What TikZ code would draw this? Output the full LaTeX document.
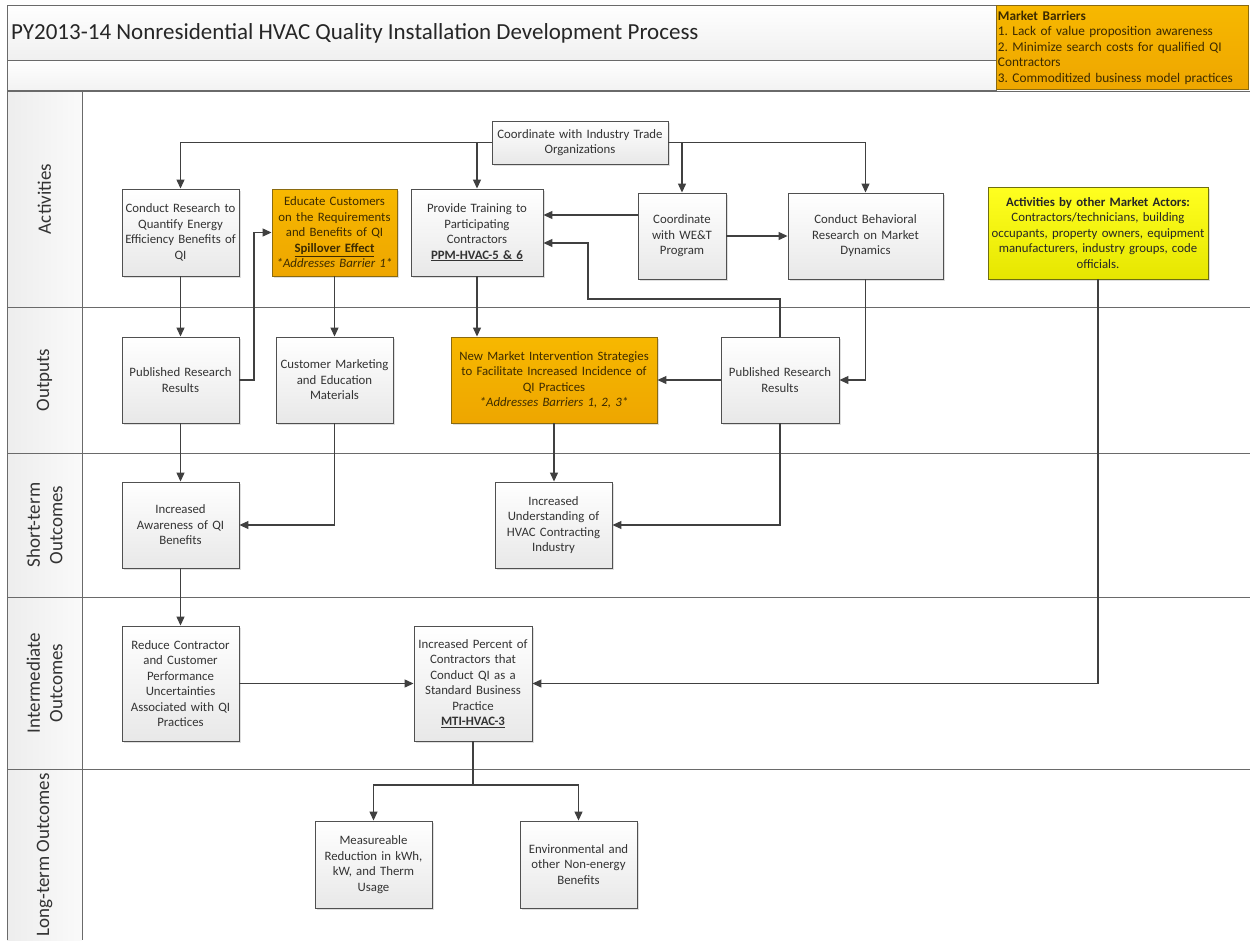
\documentclass[tikz,border=0pt]{standalone}
\usepackage{fontspec}
\setmainfont{Carlito}
\frenchspacing
\usetikzlibrary{arrows.meta,shadows,calc}
\definecolor{ln}{HTML}{404040}
\definecolor{bd}{HTML}{505050}
\definecolor{lanec}{HTML}{6A6A6A}
\definecolor{org}{HTML}{F7B800}
\definecolor{orgd}{HTML}{EEA600}
\definecolor{orgb}{HTML}{8A6A10}
\definecolor{yel}{HTML}{FFFF20}
\definecolor{yeld}{HTML}{E6E600}
\definecolor{yelb}{HTML}{6E6E10}
\definecolor{txt}{HTML}{333333}
\definecolor{otxt}{HTML}{3D2B00}
\tikzset{
  box/.style={draw=bd, line width=0.9pt, top color=white, bottom color=gray!18,
    drop shadow={shadow xshift=1.5pt, shadow yshift=-1.5pt, opacity=0.25},
    align=center, inner sep=2pt, font=\fontsize{12.8}{15.5}\selectfont, text=txt},
  obox/.style={box, top color=org, bottom color=orgd, draw=orgb, text=otxt},
  ybox/.style={box, top color=yel, bottom color=yeld, draw=yelb, text=black!85},
  arr/.style={draw=ln, line width=1.2pt, -{Triangle[width=8pt,length=9pt]}},
  conn/.style={draw=ln, line width=1.2pt},
  laneline/.style={draw=lanec, line width=1pt},
  lanelabel/.style={rotate=90, align=center, text=txt, font=\fontsize{19}{22.5}\selectfont},
}
\begin{document}
\begin{tikzpicture}[x=1pt, y=-1pt]
\useasboundingbox (0,0) rectangle (1250,940);
\fill[white] (0,0) rectangle (1250,940);

% header bands
\draw[laneline, top color=white, bottom color=gray!12] (7,5) rectangle (996,60);
\draw[laneline, top color=white, bottom color=gray!10] (7,60) rectangle (996,90);
\node[anchor=west, inner sep=0pt, text=black!85, font=\fontsize{23}{27}\selectfont] (title) at (11,33)
  {PY2013-14 Nonresidential HVAC Quality Installation Development Process};
\node[anchor=north west, draw=orgb, line width=0.9pt, top color=org, bottom color=orgd,
  minimum width=252pt, minimum height=84pt, text width=249pt, inner sep=1.5pt, align=left,
  text=otxt, font=\fontsize{13.3}{15.5}\selectfont] (barriers) at (996,5)
  {\textbf{Market Barriers}\\
   1. Lack of value proposition awareness\\
   2. Minimize search costs for qualified QI\\
   Contractors\\
   3. Commoditized business model practices};

% swimlanes
\fill[left color=gray!14, right color=gray!4] (7,91) rectangle (82,940);
\draw[laneline] (7,91) -- (1250,91);
\draw[laneline] (7,307.5) -- (1250,307.5);
\draw[laneline] (7,453) -- (1250,453);
\draw[laneline] (7,597) -- (1250,597);
\draw[laneline] (7,769) -- (1250,769);
\draw[laneline] (7,91) -- (7,940);
\draw[laneline] (82,91) -- (82,940);
\node[lanelabel] (l1) at (44.5,199) {Activities};
\node[lanelabel] (l2) at (44.5,380) {Outputs};
\node[lanelabel] (l3) at (44.5,525) {Short-term\\Outcomes};
\node[lanelabel] (l4) at (44.5,683) {Intermediate\\Outcomes};
\node[lanelabel] (l5) at (44.5,855) {Long-term Outcomes};

% Activities
\node[box, minimum width=176pt, minimum height=43pt, text width=172pt] (trade) at (580,142.5)
  {Coordinate with Industry Trade\\Organizations};
\node[box, minimum width=117pt, minimum height=87pt, text width=113pt] (research) at (180.5,232.5)
  {Conduct Research to\\Quantify Energy\\Efficiency Benefits of\\QI};
\node[obox, minimum width=125pt, minimum height=87pt, text width=121pt] (educate) at (334.5,232.5)
  {Educate Customers\\on the Requirements\\and Benefits of QI\\\textbf{\underline{Spillover Effect}}\\\textit{*Addresses Barrier 1*}};
\node[box, minimum width=132pt, minimum height=87pt, text width=128pt] (training) at (477,232.5)
  {Provide Training to\\Participating\\Contractors\\\textbf{\underline{PPM-HVAC-5 \& 6}}};
\node[box, minimum width=88pt, minimum height=86pt, text width=84pt] (wet) at (682,236)
  {Coordinate\\with WE\&T\\Program};
\node[box, minimum width=155pt, minimum height=86pt, text width=151pt] (behav) at (865.5,236)
  {Conduct Behavioral\\Research on Market\\Dynamics};
\node[ybox, minimum width=220pt, minimum height=92pt, text width=216pt] (actors) at (1098,233)
  {\textbf{Activities by other Market Actors:}\\Contractors/technicians, building\\occupants, property owners, equipment\\manufacturers, industry groups, code\\officials.};

% Outputs
\node[box, minimum width=117pt, minimum height=86pt, text width=113pt] (prr1) at (180.5,380)
  {Published Research\\Results};
\node[box, minimum width=117pt, minimum height=86pt, text width=113pt] (cmkt) at (334.5,380)
  {Customer Marketing\\and Education\\Materials};
\node[obox, minimum width=206pt, minimum height=86pt, text width=202pt] (nmis) at (554,380)
  {New Market Intervention Strategies\\to Facilitate Increased Incidence of\\QI Practices\\\textit{*Addresses Barriers 1, 2, 3*}};
\node[box, minimum width=118pt, minimum height=86pt, text width=114pt] (prr2) at (780,380)
  {Published Research\\Results};

% Short-term
\node[box, minimum width=117pt, minimum height=86pt, text width=113pt] (aware) at (180.5,525)
  {Increased\\Awareness of QI\\Benefits};
\node[box, minimum width=117pt, minimum height=86pt, text width=113pt] (under) at (553.5,525)
  {Increased\\Understanding of\\HVAC Contracting\\Industry};

% Intermediate
\node[box, minimum width=117pt, minimum height=115pt, text width=113pt] (reduce) at (180.5,683.5)
  {Reduce Contractor\\and Customer\\Performance\\Uncertainties\\Associated with QI\\Practices};
\node[box, minimum width=118pt, minimum height=115pt, text width=114pt] (pct) at (473,683.5)
  {Increased Percent of\\Contractors that\\Conduct QI as a\\Standard Business\\Practice\\\textbf{\underline{MTI-HVAC-3}}};

% Long-term
\node[box, minimum width=117pt, minimum height=87pt, text width=113pt] (meas) at (373.5,864.5)
  {Measureable\\Reduction in kWh,\\kW, and Therm\\Usage};
\node[box, minimum width=117pt, minimum height=87pt, text width=113pt] (env) at (578.5,864.5)
  {Environmental and\\other Non-energy\\Benefits};

% helper coordinates
\coordinate (w1) at ([yshift=21pt]wet.west);
\coordinate (t1) at ([yshift=-10.5pt]training.east);
\coordinate (b1) at (588,299);
\coordinate (b2) at (254,380);
\coordinate (fork) at (473,785);

% connectors
\draw[arr] (trade.west) -| (research.north);
\draw[arr] (trade.east) -| (behav.north);
\draw[arr] (trade.west -| training.north) -- (training.north);
\draw[arr] (trade.east -| wet.north) -- (wet.north);
\draw[arr] (w1) -- (w1 -| training.east);
\draw[arr] (wet.east) -- (behav.west);
\draw[arr] (prr2.north) |- (b1) |- (t1);
\draw[arr] (research.south) -- (prr1.north);
\draw[arr] (prr1.east) -- (b2) |- (educate.west);
\draw[arr] (educate.south) -- (cmkt.north);
\draw[arr] (training.south) -- (training.south |- nmis.north);
\draw[arr] (behav.south) |- (prr2.east);
\draw[arr] (prr2.west) -- (nmis.east);
\draw[arr] (actors.south) |- (pct.east);
\draw[arr] (prr1.south) -- (aware.north);
\draw[arr] (cmkt.south) |- (aware.east);
\draw[arr] (nmis.south) -- (nmis.south |- under.north);
\draw[arr] (prr2.south) |- (under.east);
\draw[arr] (aware.south) -- (reduce.north);
\draw[arr] (reduce.east) -- (pct.west);
\draw[conn] (pct.south) -- (fork);
\draw[arr] (fork) -| (meas.north);
\draw[arr] (fork) -| (env.north);
\end{tikzpicture}
\end{document}
